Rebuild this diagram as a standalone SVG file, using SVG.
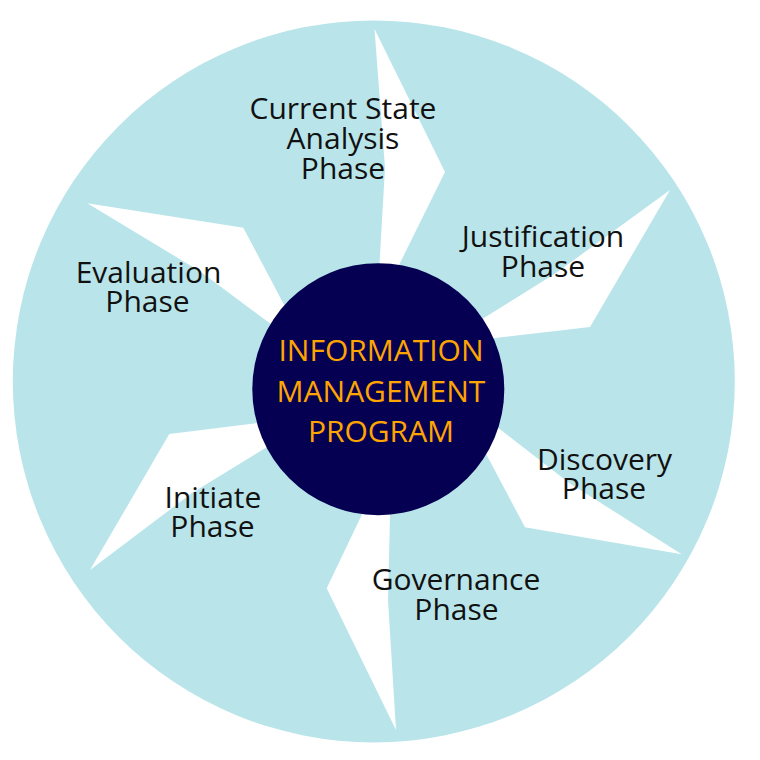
<svg xmlns="http://www.w3.org/2000/svg" width="760" height="760" viewBox="0 0 760 760">
  <style>
    .bg { fill: #B9E5EA; }
    .arrow { fill: #FFFFFF; }
    .hub { fill: #050052; }
    .label { font-family: "Open Sans", "Noto Sans", "Liberation Sans", sans-serif; font-size: 30px; fill: #111111; text-anchor: middle; }
    .hubtext { font-family: "Open Sans", "Noto Sans", "Liberation Sans", sans-serif; font-size: 30px; fill: #FFA500; text-anchor: middle; }
  </style>
  <rect x="0" y="0" width="760" height="760" fill="#FFFFFF"/>
  <circle class="bg" cx="373.8" cy="381.4" r="361"/>

  <g id="connectors">
    <polygon class="arrow" points="374.5,29 445,172 388.9,285.4 378.1,288 385,168"/>
    <polygon class="arrow" points="670,190 590,327 470.2,340.9 462.1,331.5 556,273"/>
    <polygon class="arrow" points="681.7,554.3 525,527.3 475,432.9 480.2,414 569.9,483.4"/>
    <polygon class="arrow" points="396,730 326.7,588.3 372.5,492.4 390.6,490 388,600"/>
    <polygon class="arrow" points="90,570 169.3,434 279.8,420.2 286.3,435.3 192.1,492.9"/>
    <polygon class="arrow" points="87.3,203.3 243.3,227.7 295,325.4 290.1,338.2 199.6,271.1"/>
  </g>

  <g id="hub">
    <circle class="hub" cx="378.3" cy="389.2" r="126"/>
    <text class="hubtext" x="381" y="361">INFORMATION</text>
    <text class="hubtext" x="381" y="401.5">MANAGEMENT</text>
    <text class="hubtext" x="381" y="441.5">PROGRAM</text>
  </g>

  <g id="current-state">
    <text class="label" x="343" y="119">Current State</text>
    <text class="label" x="343" y="149">Analysis</text>
    <text class="label" x="343" y="178.5">Phase</text>
  </g>
  <g id="justification">
    <text class="label" x="543" y="247">Justification</text>
    <text class="label" x="543" y="276.5">Phase</text>
  </g>
  <g id="discovery">
    <text class="label" x="604.5" y="469.5">Discovery</text>
    <text class="label" x="604" y="499">Phase</text>
  </g>
  <g id="governance">
    <text class="label" x="456" y="590">Governance</text>
    <text class="label" x="456.5" y="620">Phase</text>
  </g>
  <g id="initiate">
    <text class="label" x="213" y="507.5">Initiate</text>
    <text class="label" x="212.5" y="537">Phase</text>
  </g>
  <g id="evaluation">
    <text class="label" x="148.5" y="282.5">Evaluation</text>
    <text class="label" x="147.5" y="311.5">Phase</text>
  </g>
</svg>
